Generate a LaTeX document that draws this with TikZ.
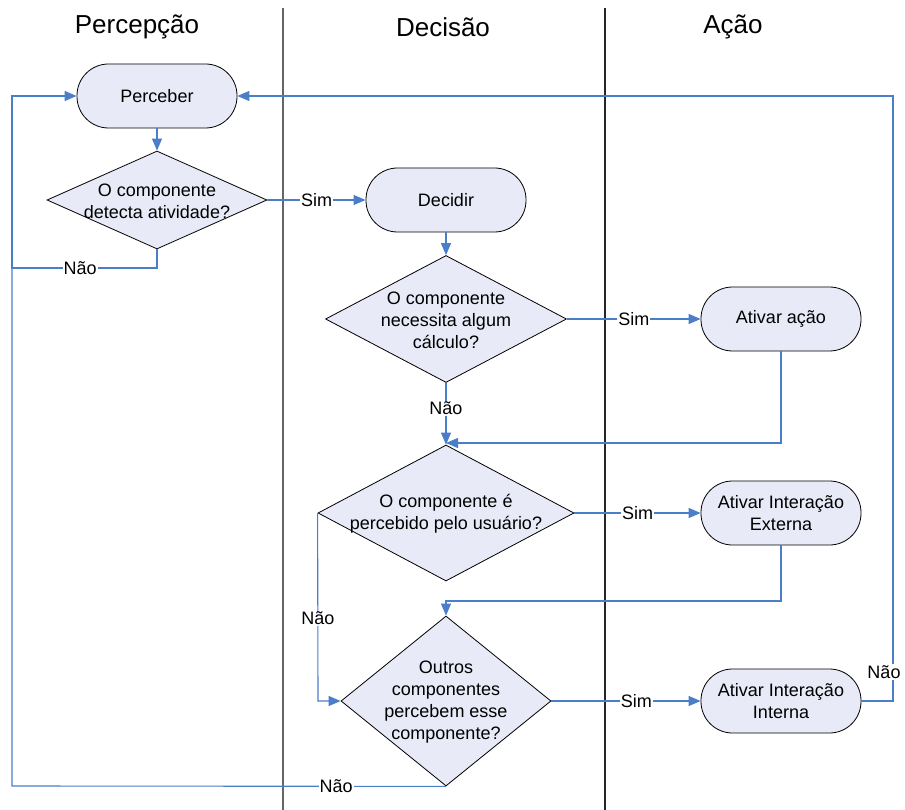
\documentclass[tikz,border=0pt]{standalone}
\usepackage{fontspec}
\setmainfont{Liberation Sans}
\usetikzlibrary{shapes.geometric,arrows.meta}
\definecolor{fillc}{HTML}{E8EBF7}
\definecolor{linec}{HTML}{4A7EC8}
\begin{document}
\begin{tikzpicture}[x=1pt,y=-1pt,
 term/.style={draw=black, fill=fillc, rounded corners=31.5pt, minimum width=160pt, minimum height=64pt, align=center, inner sep=0pt, font=\fontsize{18}{21.5}\selectfont, line width=0.8pt},
 dia/.style={draw=black, fill=fillc, diamond, inner sep=0pt, line width=0.8pt},
 dtext/.style={align=center, inner sep=0pt, font=\fontsize{18}{22}\selectfont},
 conn/.style={draw=linec, line width=1.1pt},
 arr/.style={conn, -{Triangle[length=12pt,width=10pt]}},
 lbl/.style={fill=white, inner sep=1pt, font=\fontsize{18}{21}\selectfont, text=black},
 hdr/.style={font=\fontsize{26}{30}\selectfont},
 lane/.style={line width=1.5pt}]
\useasboundingbox (0,0) rectangle (905,810);

% lanes
\draw[lane, draw=black!60] (283,8) -- (283,810);
\draw[lane, draw=black!85] (605,8) -- (605,810);
\node[hdr] (h1) at (137,27) {Percepção};
\node[hdr] (h2) at (443,27) {Decisão};
\node[hdr] (h3) at (733,27) {Ação};

% nodes
\node[term] (perc) at (157,96) {Perceber};
\node[dia, minimum width=220pt, minimum height=98pt] (d1) at (157,200) {};
\node[dtext] (d1t) at (157,201) {O componente\\detecta atividade?};
\node[term] (dec) at (446,200) {Decidir};
\node[dia, minimum width=241pt, minimum height=127pt] (d2) at (446,319) {};
\node[dtext] (d2t) at (446,320) {O componente\\necessita algum\\cálculo?};
\node[term] (act) at (781,319) {Ativar ação};
\node[dia, minimum width=256pt, minimum height=136pt] (d3) at (446,513) {};
\node[dtext] (d3t) at (446,514) {O componente é\\percebido pelo usuário?};
\node[term] (ext) at (781,513) {Ativar Interação\\Externa};
\node[dia, minimum width=210pt, minimum height=170pt] (d4) at (446,701) {};
\node[dtext] (d4t) at (446,702) {Outros\\componentes\\percebem esse\\componente?};
\node[term] (int) at (781,701) {Ativar Interação\\Interna};

% helper coordinates
\coordinate (c1a) at (157,268);
\coordinate (c1b) at (12,268);
\coordinate (c1c) at (12,96);
\coordinate (c4a) at (12,786);
\coordinate (c5a) at (893,701);
\coordinate (c5b) at (893,96);
\coordinate (c3a) at (318,701);
\coordinate (j3) at (446,443);
\coordinate (j4) at (446,601);

% connectors
\draw[arr] (perc.south) -- (d1.north);
\draw[arr] (d1.east) -- node[lbl]{Sim} (dec.west);
\draw[arr] (d1.south) -- (c1a) -- node[lbl, pos=0.53]{Não} (c1b) -- (c1c) -- (perc.west);
\draw[arr] (dec.south) -- (d2.north);
\draw[arr] (d2.east) -- node[lbl]{Sim} (act.west);
\draw[arr] (d2.south) -- node[lbl, pos=0.41]{Não} (d3.north);
\draw[arr] (act.south) |- (j3);
\draw[arr] (d3.east) -- node[lbl]{Sim} (ext.west);
\draw[arr] (d3.west) -- node[lbl, pos=0.56]{Não} (c3a) -- (d4.west);
\draw[arr] (ext.south) |- (j4) -- (d4.north);
\draw[arr] (d4.east) -- node[lbl, pos=0.57]{Sim} (int.west);
\draw[conn] (d4.south) -- node[lbl, pos=0.253]{Não} (c4a) -- (c1b);
\draw[arr] (int.east) -- (c5a) -- node[lbl, pos=0.048, xshift=-9pt]{Não} (c5b) -- (perc.east);
\end{tikzpicture}
\end{document}
